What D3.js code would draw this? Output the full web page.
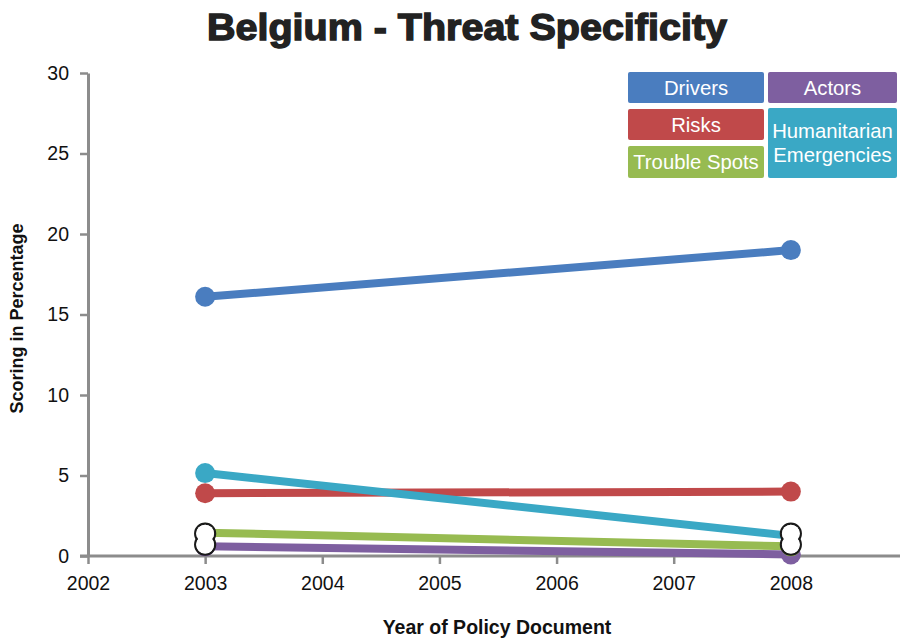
<!DOCTYPE html>
<html>
<head>
<meta charset="utf-8">
<script src="https://cdn.jsdelivr.net/npm/d3@7"></script>
<style>
  html, body { margin: 0; padding: 0; background: #fff; }
  svg { display: block; }
</style>
</head>
<body>
<svg id="chart" width="902" height="638"></svg>
<script>
// Threat specificity scores per policy document year
const years = [2003, 2008];
const seriesNames = ["Actors", "Trouble Spots", "Risks", "Humanitarian Emergencies", "Drivers"];
const actorsValues = [0.6, 0.1];
const troubleSpotsValues = [1.45, 0.6];
const risksValues = [3.9, 4.0];
const humanitarianValues = [5.15, 1.25];
const driversValues = [16.1, 19.0];
const xTickYears = [2002, 2003, 2004, 2005, 2006, 2007, 2008];
const yTickValues = [0, 5, 10, 15, 20, 25, 30];
// open "cluster" markers where several series meet near zero
const clusterMarkers = [{year: 2003, value: 1.05}, {year: 2008, value: 1.05}];

const colors = {
  "Drivers": "#4a7dbf",
  "Actors": "#7e5fa0",
  "Risks": "#c0494a",
  "Humanitarian Emergencies": "#3aa8c5",
  "Trouble Spots": "#97bb51"
};
const valuesByName = {
  "Actors": actorsValues,
  "Trouble Spots": troubleSpotsValues,
  "Risks": risksValues,
  "Humanitarian Emergencies": humanitarianValues,
  "Drivers": driversValues
};
const series = seriesNames.map(name => ({
  name,
  points: years.map((y, i) => ({year: y, value: valuesByName[name][i]}))
}));

const svg = d3.select("#chart");
const axisColor = "#8c8c8c";

const x = d3.scaleLinear().domain([2002, 2009]).range([88, 908]);
const y = d3.scaleLinear().domain([0, 30]).range([556, 73]);

// Title
svg.append("text")
  .attr("x", 467).attr("y", 40)
  .attr("text-anchor", "middle")
  .attr("font-family", "Liberation Sans, Arial, sans-serif")
  .attr("font-weight", "bold")
  .attr("font-size", 37)
  .attr("textLength", 520)
  .attr("lengthAdjust", "spacingAndGlyphs")
  .attr("stroke", "#222").attr("stroke-width", 1.4)
  .attr("fill", "#222")
  .text("Belgium - Threat Specificity");

// Y axis
const yAxis = svg.append("g")
  .attr("transform", `translate(${x(2002)},0)`)
  .call(d3.axisLeft(y).tickValues(yTickValues).tickSize(8).tickPadding(11).tickSizeOuter(0));
yAxis.select(".domain").attr("stroke", axisColor).attr("stroke-width", 3);
yAxis.selectAll(".tick line").attr("stroke", axisColor).attr("stroke-width", 2.5);
yAxis.selectAll(".tick text")
  .attr("font-family", "Liberation Sans, Arial, sans-serif")
  .attr("font-size", 19.5).attr("fill", "#111");

// X axis
const xAxis = svg.append("g")
  .attr("transform", `translate(0,${y(0)})`)
  .call(d3.axisBottom(x).tickValues(xTickYears).tickFormat(d3.format("d"))
    .tickSize(8).tickPadding(12).tickSizeOuter(0));
xAxis.select(".domain")
  .attr("d", `M${x(2002) - 8},0H900`)
  .attr("stroke", axisColor).attr("stroke-width", 3);
xAxis.selectAll(".tick line").attr("stroke", axisColor).attr("stroke-width", 2.5);
xAxis.selectAll(".tick text")
  .attr("font-family", "Liberation Sans, Arial, sans-serif")
  .attr("font-size", 19.5).attr("fill", "#111");

// Axis titles
svg.append("text")
  .attr("transform", `translate(23,${(y(0) + y(30)) / 2 + 4}) rotate(-90)`)
  .attr("text-anchor", "middle")
  .attr("font-family", "Liberation Sans Narrow, Liberation Sans, Arial, sans-serif")
  .attr("font-weight", "bold").attr("font-size", 18).attr("fill", "#111")
  .text("Scoring in Percentage");
svg.append("text")
  .attr("x", 497).attr("y", 634)
  .attr("text-anchor", "middle")
  .attr("font-family", "Liberation Sans Narrow, Liberation Sans, Arial, sans-serif")
  .attr("font-weight", "bold").attr("font-size", 19.5).attr("fill", "#111")
  .text("Year of Policy Document");

// Series lines
const line = d3.line().x(d => x(d.year)).y(d => y(d.value));
const plot = svg.append("g");
series.forEach(s => {
  plot.append("path")
    .datum(s.points)
    .attr("d", line)
    .attr("fill", "none")
    .attr("stroke", colors[s.name])
    .attr("stroke-width", 8)
    .attr("stroke-linecap", "round");
});
series.forEach(s => {
  plot.selectAll(null)
    .data(s.points)
    .join("circle")
    .attr("cx", d => x(d.year))
    .attr("cy", d => y(d.value))
    .attr("r", 10)
    .attr("fill", colors[s.name]);
});

// Cluster markers: two merged circles with a dark outline
clusterMarkers.forEach(m => {
  const g = plot.append("g").attr("transform", `translate(${x(m.year)},${y(m.value)})`);
  [-5.5, 5.5].forEach(dy => g.append("circle").attr("cy", dy).attr("r", 10)
    .attr("fill", "#fff").attr("stroke", "#1a1a1a").attr("stroke-width", 2.2));
  [-5.5, 5.5].forEach(dy => g.append("circle").attr("cy", dy).attr("r", 8.9)
    .attr("fill", "#fff"));
});

// Legend boxes
const legendItems = [
  {name: "Drivers", lines: ["Drivers"], x: 628, y: 72, w: 136, h: 31},
  {name: "Actors", lines: ["Actors"], x: 768, y: 72, w: 129, h: 31},
  {name: "Risks", lines: ["Risks"], x: 628, y: 109, w: 136, h: 31},
  {name: "Humanitarian Emergencies", lines: ["Humanitarian", "Emergencies"], x: 768, y: 108, w: 129, h: 70},
  {name: "Trouble Spots", lines: ["Trouble Spots"], x: 628, y: 146, w: 136, h: 32}
];
const legend = svg.append("g");
legendItems.forEach(it => {
  legend.append("rect")
    .attr("x", it.x).attr("y", it.y).attr("width", it.w).attr("height", it.h)
    .attr("rx", 2).attr("fill", colors[it.name]);
  const t = legend.append("text")
    .attr("text-anchor", "middle")
    .attr("font-family", "Liberation Sans, Arial, sans-serif")
    .attr("font-size", 20.3).attr("fill", "#fff");
  const n = it.lines.length;
  it.lines.forEach((ln, i) => {
    t.append("tspan")
      .attr("x", it.x + it.w / 2)
      .attr("y", it.y + it.h / 2 + 7 + (i - (n - 1) / 2) * 24)
      .text(ln);
  });
});
</script>
</body>
</html>
